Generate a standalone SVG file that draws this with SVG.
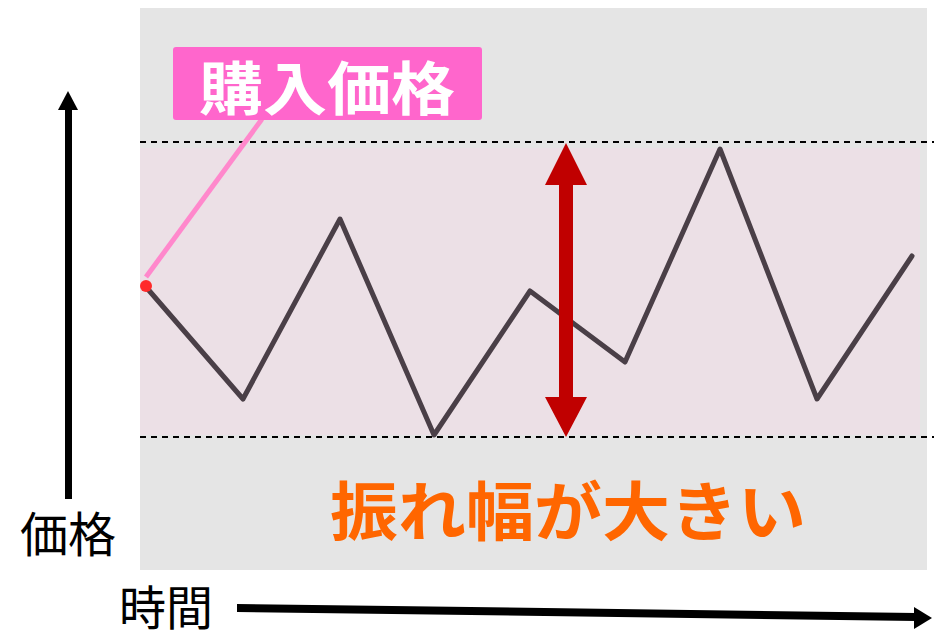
<svg xmlns="http://www.w3.org/2000/svg" width="948" height="643" viewBox="0 0 948 643">
<defs>
<style>
.cjk{font-family:"Noto Sans CJK JP","Noto Sans CJK SC",sans-serif;}
.dash{stroke:#000;stroke-width:1.8;stroke-dasharray:6 5;fill:none;}
</style>
</defs>
<rect x="140" y="8" width="787" height="562" fill="#e5e5e5"/>
<rect x="140" y="148" width="780" height="287" fill="#ece0e6"/>
<g id="guides">
<line class="dash" x1="140" y1="142" x2="934" y2="142"/>
<line class="dash" x1="140" y1="437" x2="934" y2="437"/>
</g>
<g id="y-axis">
<rect x="65" y="108" width="7" height="391" fill="#000"/>
<polygon points="68,91 58,110 78,110" fill="#000"/>
<text class="cjk" x="68" y="552" font-size="48" text-anchor="middle" fill="#000">価格</text>
</g>
<g id="x-axis">
<polygon points="237,604 916,613 916,621 237,612" fill="#000"/>
<polygon points="932,618 914,607 914,629" fill="#000"/>
<text class="cjk" x="166" y="625" font-size="47" text-anchor="middle" fill="#000">時間</text>
</g>
<g id="connectors">
<line x1="146" y1="277" x2="262" y2="119" stroke="#ff88cc" stroke-width="5"/>
</g>
<g id="price-line">
<polyline points="146,287 243,399 340,219 434,435 530,291 625,362 720,149 817,399 912,256" fill="none" stroke="#4a3f47" stroke-width="5" stroke-linejoin="round" stroke-linecap="round"/>
<circle cx="146" cy="286" r="6" fill="#ff2a2a"/>
</g>
<g id="label">
<rect x="173" y="47" width="309" height="73" rx="3" fill="#ff66cc"/>
<text class="cjk" x="327" y="110" font-size="58" font-weight="bold" text-anchor="middle" fill="#fff" textLength="256" lengthAdjust="spacingAndGlyphs">購入価格</text>
</g>
<g id="range-arrow">
<polygon points="566,143 587,185 573,185 573,397 587,397 566,437 545,397 559,397 559,185 545,185" fill="#c00000"/>
</g>
<g id="caption">
<text class="cjk" x="568" y="535" font-size="64" font-weight="bold" text-anchor="middle" fill="#ff6600" textLength="476" lengthAdjust="spacingAndGlyphs">振れ幅が大きい</text>
</g>
</svg>
